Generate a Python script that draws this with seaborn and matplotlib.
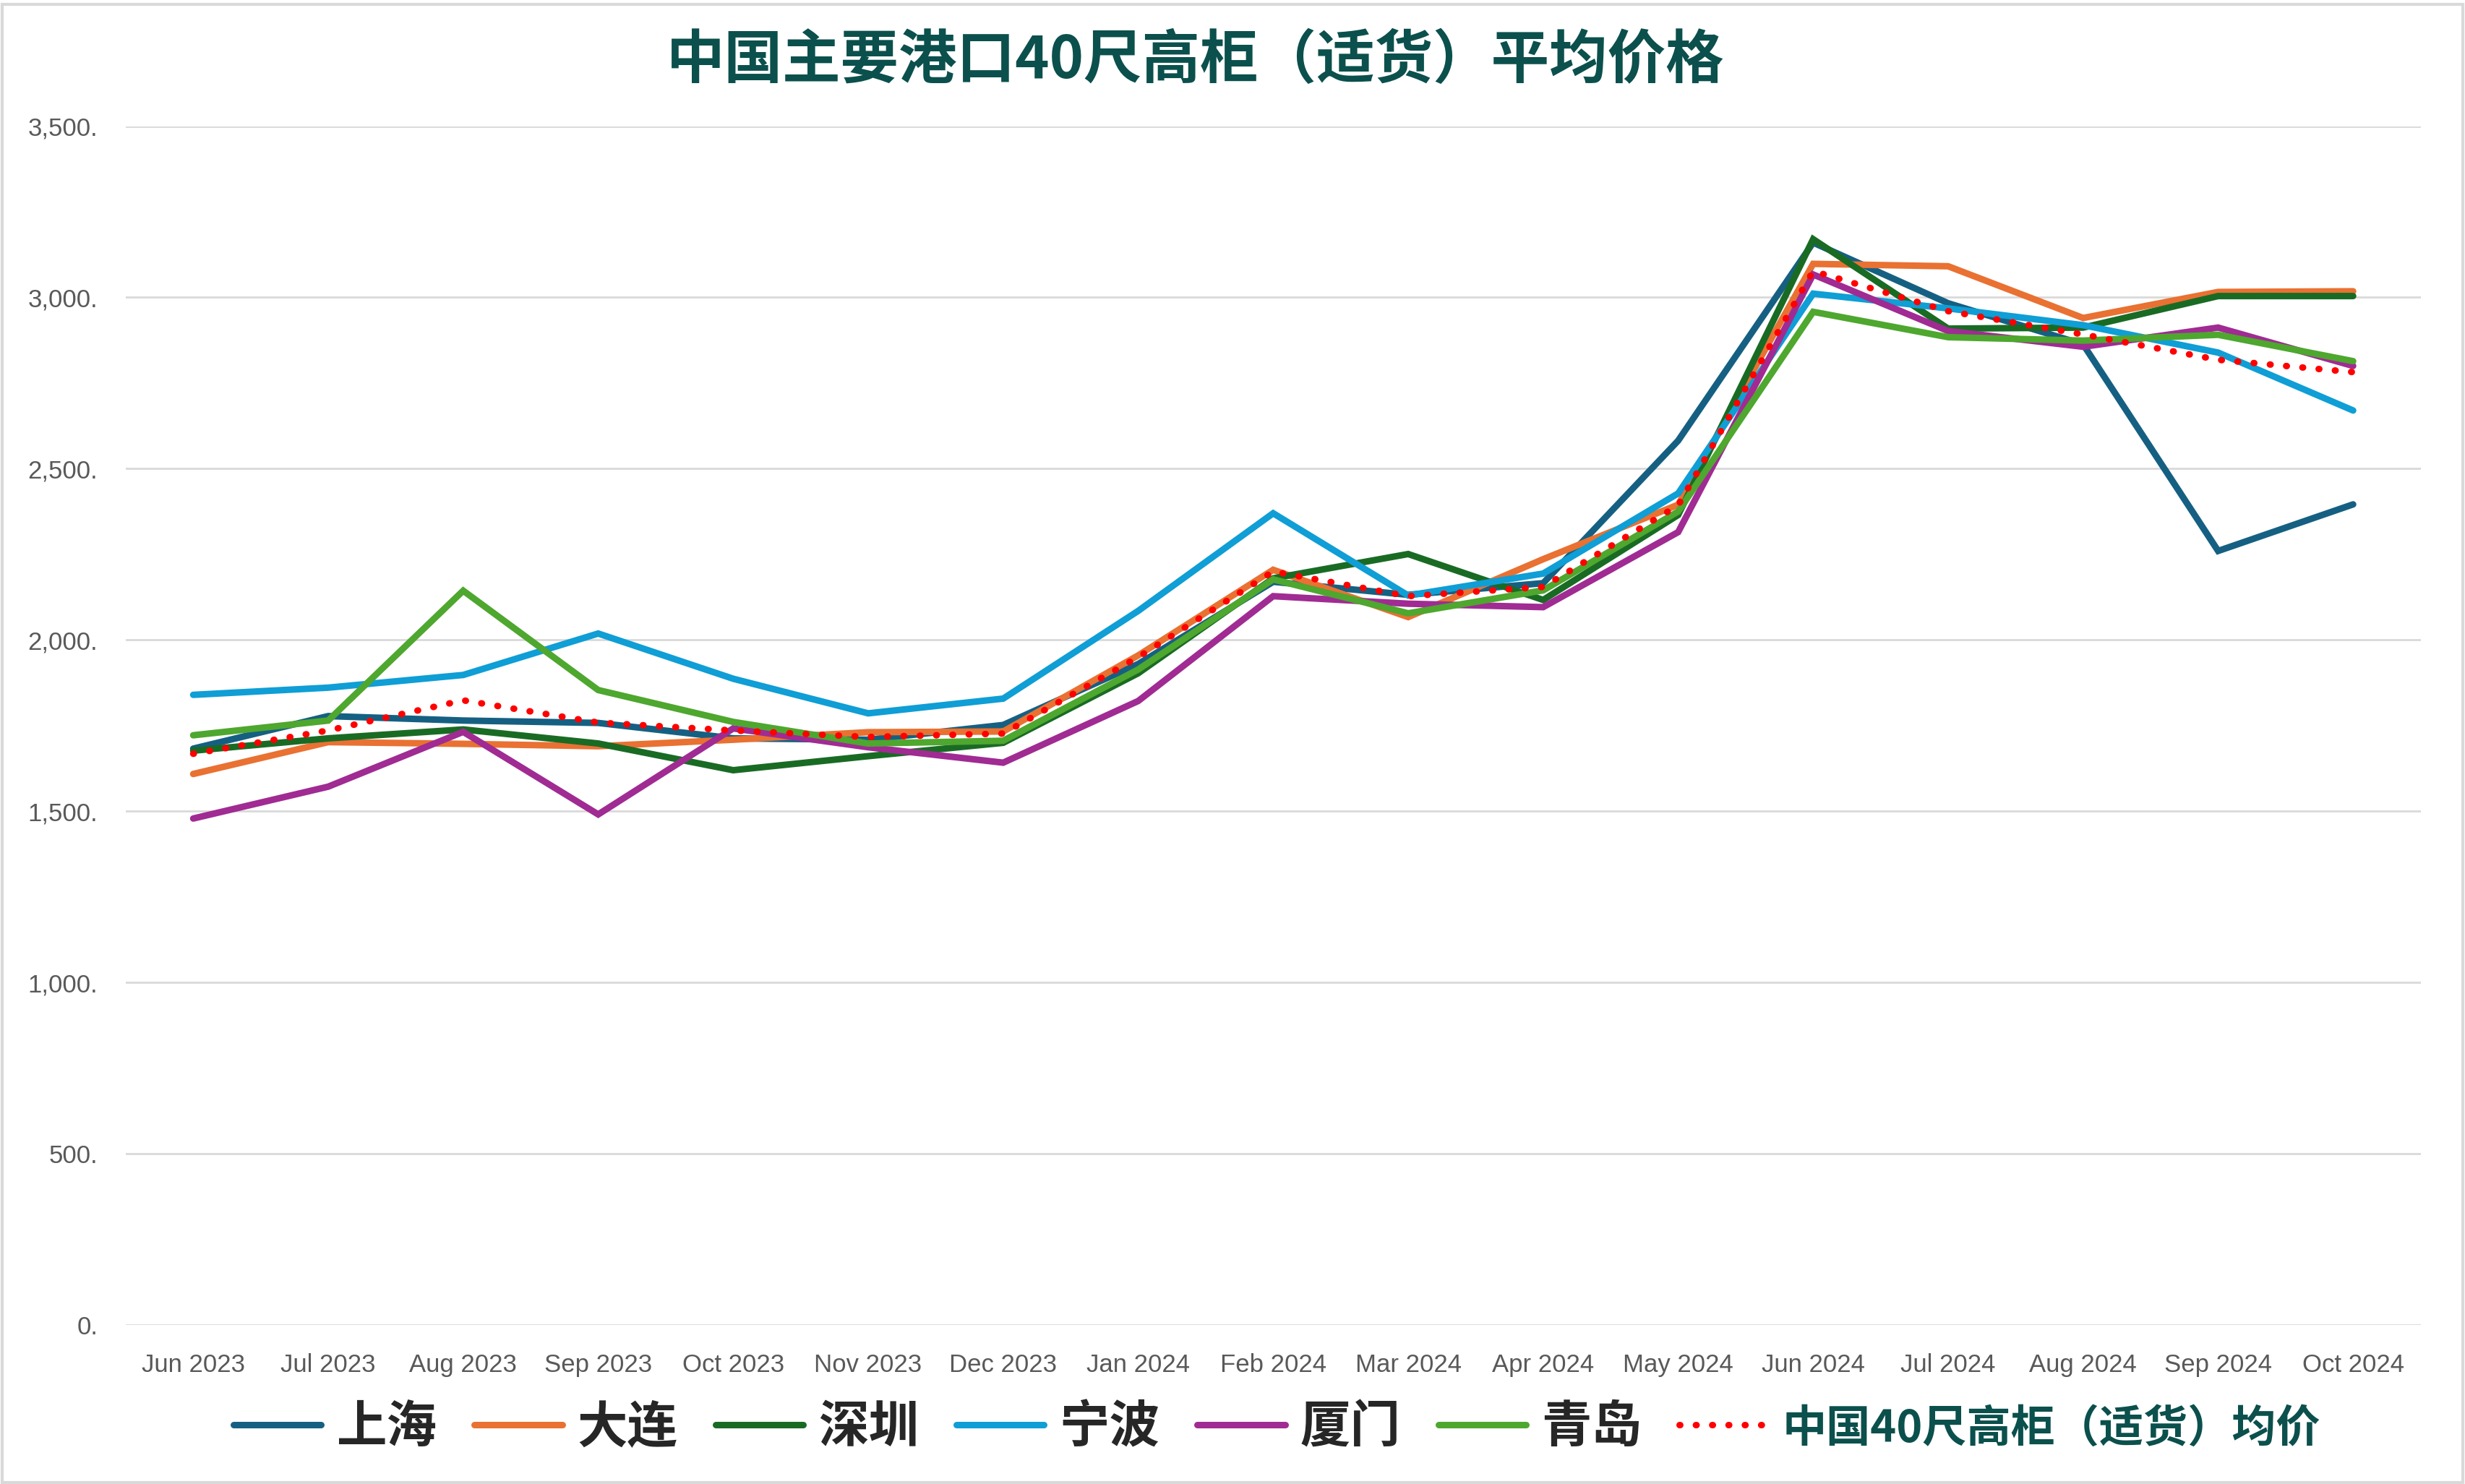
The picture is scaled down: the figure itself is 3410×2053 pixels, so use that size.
import numpy as np
import pandas as pd
import seaborn as sns
import matplotlib.pyplot as plt
from matplotlib.ticker import FuncFormatter
from matplotlib.patches import Rectangle

#months on the x axis
months = ['Jun 2023', 'Jul 2023', 'Aug 2023', 'Sep 2023', 'Oct 2023', 'Nov 2023',
          'Dec 2023', 'Jan 2024', 'Feb 2024', 'Mar 2024', 'Apr 2024', 'May 2024',
          'Jun 2024', 'Jul 2024', 'Aug 2024', 'Sep 2024', 'Oct 2024']

#prices per port
shanghai = [1683, 1778, 1765, 1758, 1713, 1709, 1752, 1930, 2170, 2132, 2166, 2582, 3160, 2983, 2863, 2260, 2396]
dalian = [1609, 1702, 1697, 1690, 1709, 1731, 1733, 1955, 2205, 2067, 2236, 2395, 3098, 3091, 2940, 3016, 3018]
shenzhen = [1677, 1713, 1739, 1698, 1620, 1661, 1700, 1903, 2180, 2251, 2117, 2365, 3170, 2909, 2912, 3004, 3004]
ningbo = [1840, 1861, 1898, 2019, 1887, 1786, 1829, 2085, 2370, 2130, 2194, 2428, 3011, 2968, 2919, 2839, 2670]
xiamen = [1479, 1572, 1732, 1491, 1742, 1687, 1642, 1822, 2128, 2106, 2096, 2315, 3067, 2902, 2856, 2912, 2800]
qingdao = [1722, 1765, 2144, 1854, 1761, 1698, 1706, 1914, 2177, 2078, 2145, 2375, 2958, 2884, 2874, 2891, 2814]
average = [1668, 1736, 1824, 1759, 1736, 1717, 1727, 1950, 2200, 2128, 2155, 2393, 3077, 2960, 2892, 2818, 2782]

ports = ['上海', '大连', '深圳', '宁波', '厦门', '青岛']
port_values = [shanghai, dalian, shenzhen, ningbo, xiamen, qingdao]
colors = ['#156082', '#E97132', '#196B24', '#0F9ED5', '#A02B93', '#4EA72E']
avg_label = '中国40尺高柜（适货）均价'

sns.set_style('white')
plt.rcParams['font.family'] = ['Liberation Sans', 'Noto Sans CJK SC', 'DejaVu Sans']

fig = plt.figure(figsize=(34.1, 20.53), dpi=100)
ax = fig.add_axes([0.051, 0.107, 0.931, 0.808])

for name, vals, c in zip(ports, port_values, colors):
    sns.lineplot(x=months, y=vals, ax=ax, color=c, linewidth=6.5,
                 label=name, solid_capstyle='round', solid_joinstyle='miter', sort=False)

sns.lineplot(x=months, y=average, ax=ax, color='#FF0000', linewidth=6.5,
             label=avg_label, sort=False)
ax.lines[-1].set_linestyle((0, (0.1, 2.4)))
ax.lines[-1].set_dash_capstyle('round')

ax.set_xlim(-0.5, 16.5)
ax.set_ylim(0, 3500)
ax.set_yticks(np.arange(0, 3501, 500))
ax.yaxis.set_major_formatter(FuncFormatter(lambda v, p: '{:,.0f}.'.format(v)))
ax.grid(axis='y', color='#D9D9D9', linewidth=2)
ax.grid(axis='x', visible=False)
ax.set_axisbelow(True)
for s in ax.spines.values():
    s.set_visible(False)
ax.tick_params(axis='both', length=0, labelsize=25, labelcolor='#595959')
ax.tick_params(axis='x', pad=28)
ax.tick_params(axis='y', pad=28)
ax.set_xlabel('')
ax.set_ylabel('')

fig.text(0.485, 0.959, '中国主要港口40尺高柜（适货）平均价格', ha='center', va='center',
         fontsize=58, fontweight='bold', color='#0B504C',
         family=['Noto Sans CJK SC', 'DejaVu Sans'])

handles, labels = ax.get_legend_handles_labels()
ax.get_legend().remove()
leg = fig.legend(handles, labels, loc='center', bbox_to_anchor=(0.518, 0.038), ncol=7,
                 frameon=False, handlelength=1.75, handletextpad=0.3, columnspacing=0.75,
                 prop={'family': ['Noto Sans CJK SC', 'DejaVu Sans'], 'size': 50, 'weight': 'bold'})
for t in leg.get_texts()[:-1]:
    t.set_color('#262626')
leg.get_texts()[-1].set_color('#0B504C')
leg.get_texts()[-1].set_fontsize(44)

#light border round the chart
fig.patches.append(Rectangle((0.001, 0.001), 0.998, 0.996, transform=fig.transFigure,
                             fill=False, edgecolor='#D9D9D9', linewidth=3))

fig.savefig('out.png', dpi=100)
